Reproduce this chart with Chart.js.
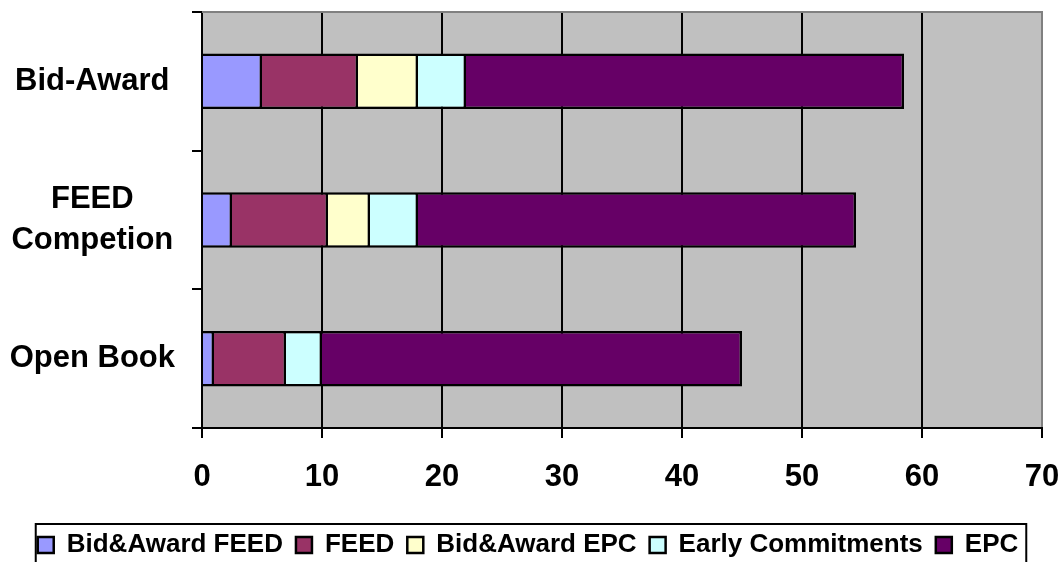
<!DOCTYPE html>
<html>
<head>
<meta charset="utf-8">
<script src="https://cdn.jsdelivr.net/npm/chart.js@4.4.1/dist/chart.umd.min.js"></script>
<style>
  html, body { margin: 0; padding: 0; background: #ffffff; }
  #wrap { width: 1060px; height: 562px; position: relative; }
</style>
</head>
<body>
<div id="wrap"><canvas id="c" width="1060" height="562"></canvas></div>
<script>
// Contracting strategies, stacked duration components
const categories = ['Bid-Award', ['FEED', 'Competion'], 'Open Book'];
const bidAwardFeed = [5, 2.5, 1];
const feed = [8, 8, 6];
const bidAwardEpc = [5, 3.5, 0];
const earlyCommitments = [4, 4, 3];
const epc = [36.5, 36.5, 35];
const xTicks = [0, 10, 20, 30, 40, 50, 60, 70];

const seriesNames = ['Bid&Award FEED', 'FEED', 'Bid&Award EPC', 'Early Commitments', 'EPC'];
const seriesColors = ['#9999FF', '#993366', '#FFFFCC', '#CCFFFF', '#660066'];
const seriesValues = [bidAwardFeed, feed, bidAwardEpc, earlyCommitments, epc];

const FONT = "'Liberation Sans', Arial, Helvetica, sans-serif";
const LEGEND_SHIFT = 7;

const plotFrame = {
  id: 'plotFrame',
  beforeDraw(chart) {
    const a = chart.chartArea, ctx = chart.ctx;
    ctx.save();
    ctx.fillStyle = '#C0C0C0';
    ctx.fillRect(a.left, a.top, a.right - a.left, a.bottom - a.top);
    ctx.restore();
    // nudge the legend row so it sits centred in its frame
    const lg = chart.legend;
    if (lg && !lg._nudged) {
      lg.left += LEGEND_SHIFT;
      lg.right += LEGEND_SHIFT;
      lg._nudged = true;
      if (typeof lg.adjustHitBoxes === 'function') lg.adjustHitBoxes();
    }
  },
  afterDatasetsDraw(chart) {
    const a = chart.chartArea, ctx = chart.ctx;
    ctx.save();
    ctx.strokeStyle = '#808080';
    ctx.lineWidth = 2;
    ctx.beginPath();
    ctx.moveTo(a.left, a.top);
    ctx.lineTo(a.right + 1, a.top);
    ctx.stroke();
    ctx.restore();
  },
  afterDraw(chart) {
    const lg = chart.legend;
    if (!lg || !lg.legendHitBoxes || !lg.legendHitBoxes.length) return;
    const hb = lg.legendHitBoxes;
    let l = Infinity, r = -Infinity;
    hb.forEach(h => { l = Math.min(l, h.left); r = Math.max(r, h.left + h.width); });
    const ctx = chart.ctx;
    ctx.save();
    ctx.strokeStyle = '#000000';
    ctx.lineWidth = 2;
    ctx.strokeRect(l - 2, 524, (r + 8) - (l - 2), 45);
    ctx.restore();
  }
};

new Chart(document.getElementById('c'), {
  type: 'bar',
  data: {
    labels: categories,
    datasets: seriesNames.map((name, i) => ({
      label: name,
      data: seriesValues[i],
      backgroundColor: seriesColors[i],
      borderColor: '#000000',
      borderWidth: 2.5,
      borderSkipped: 'start',
      inflateAmount: 0,
      barPercentage: 0.4,
      categoryPercentage: 1.0
    }))
  },
  options: {
    indexAxis: 'y',
    responsive: false,
    animation: false,
    devicePixelRatio: 1,
    layout: { padding: { top: 12, right: 18, left: 0, bottom: 0 } },
    scales: {
      x: {
        stacked: true,
        min: 0,
        max: 70,
        afterBuildTicks(scale) { scale.ticks = xTicks.map(v => ({ value: v })); },
        afterFit(scale) {
          scale.height = 91;
          scale.paddingLeft = 0;
          scale.paddingRight = 0;
        },
        border: { display: true, color: '#000000', width: 2 },
        grid: {
          color: (c) => (c.tick && c.tick.value === 70 ? '#808080' : '#000000'),
          lineWidth: 2,
          tickColor: '#000000',
          tickLength: 10,
          drawOnChartArea: true,
          drawTicks: true
        },
        ticks: {
          color: '#000000',
          padding: 21,
          maxRotation: 0,
          autoSkip: false,
          font: { family: FONT, size: 31, weight: 'bold' }
        }
      },
      y: {
        stacked: true,
        afterFit(scale) {
          scale.width = 202;
          scale.paddingTop = 0;
          scale.paddingBottom = 0;
        },
        border: { display: true, color: '#000000', width: 2 },
        grid: {
          offset: true,
          drawOnChartArea: false,
          drawTicks: true,
          tickLength: 10,
          color: '#000000',
          lineWidth: 2
        },
        ticks: {
          color: '#000000',
          padding: 17,
          crossAlign: 'center',
          font: { family: FONT, size: 31, weight: 'bold', lineHeight: 1.3 }
        }
      }
    },
    plugins: {
      tooltip: { enabled: false },
      title: { display: false },
      legend: {
        display: true,
        position: 'bottom',
        maxHeight: 43,
        labels: {
          boxWidth: 16,
          boxHeight: 16,
          padding: 13,
          color: '#000000',
          font: { family: FONT, size: 26, weight: 'bold' }
        }
      }
    }
  },
  plugins: [plotFrame]
});
</script>
</body>
</html>
